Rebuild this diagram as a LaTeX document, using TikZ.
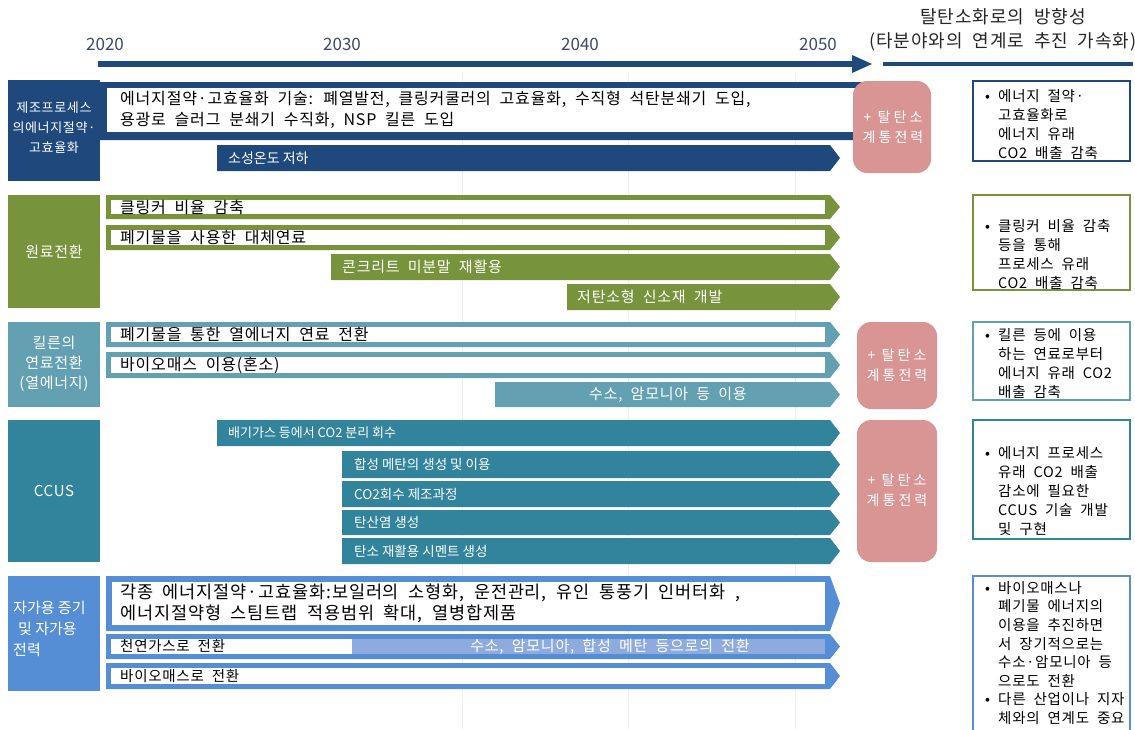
\documentclass[tikz,border=0pt]{standalone}
\usepackage{fontspec}
\setmainfont{Noto Sans CJK KR}[LetterSpace=5,WordSpace=2]
\newfontfamily\plainf{Noto Sans CJK KR}
\newfontfamily\pinkf{Noto Sans CJK KR}[LetterSpace=22]
\definecolor{navy}{HTML}{1F497D}
\definecolor{olive}{HTML}{77933C}
\definecolor{tealc}{HTML}{62A0B2}
\definecolor{ccus}{HTML}{31849B}
\definecolor{bluec}{HTML}{558ED5}
\definecolor{bluel}{HTML}{8FAADC}
\definecolor{pinkb}{HTML}{D99594}
\definecolor{yeartxt}{HTML}{3C4A6E}
\definecolor{gridc}{HTML}{EFEFEF}
\newcommand\fs[2]{\fontsize{#1pt}{#2pt}\selectfont}
% filled chevron: colour, x1, y1, tip x, y2
\newcommand\chevF[5]{\fill[#1] (#2,#3) -- ({#4-10},#3) -- (#4,{(#3+#5)/2}) -- ({#4-10},#5) -- (#2,#5) -- cycle;}
% outlined chevron: colour, x1, y1, tip x, y2, border
\newcommand\chevO[6]{\chevF{#1}{#2}{#3}{#4}{#5}\fill[white] ({#2+#6},{#3+#6}) rectangle ({#4-15},{#5-#6});}
\tikzset{
  lab/.style={text=white, align=center, inner sep=0pt},
  txt/.style={anchor=west, inner sep=0pt, text=black, align=left},
  wtxt/.style={anchor=west, inner sep=0pt, text=white},
  ctxt/.style={anchor=west, inner sep=0pt, text=white, font=\plainf\fs{13.5}{16}},
  rtxt/.style={anchor=north west, inner sep=0pt, text=black, align=left, font=\fs{14.5}{19}},
  ptxt/.style={text=white, align=center, inner sep=0pt, font=\pinkf\fs{14}{20}},
  yr/.style={text=yeartxt, inner sep=0pt, font=\plainf\fs{17}{20}},
}
\newcommand\bi{\makebox[13pt][l]{•}}
\newcommand\bs{\hspace*{13pt}}
\begin{document}
\begin{tikzpicture}[x=1pt,y=-1pt]
\useasboundingbox (0,0) rectangle (1135,729);
\fill[white] (0,0) rectangle (1135,729);
% grid
\foreach \gx in {462,628,795} \draw[gridc, line width=1pt] (\gx,72) -- (\gx,729);
% header
\node[yr] (y20) at (105,44) {2020};
\node[yr] (y30) at (342,44) {2030};
\node[yr] (y40) at (580,44) {2040};
\node[yr] (y50) at (818,44) {2050};
\fill[navy] (98,61) rectangle (853,67);
\fill[navy] (852,55) -- (872,64) -- (852,73) -- cycle;
\fill[navy] (883,62) rectangle (1133,66);
\node[inner sep=0pt, align=center, font=\fs{18}{24}, text=black!85] (head) at (1003,30) {탈탄소화로의 방향성\\(타분야와의 연계로 추진 가속화)};
%% Row 1
\fill[navy] (8,80) rectangle (100,181);
\node[lab, font=\fs{13}{20}] (l1) at (54,128) {제조프로세스\\의에너지절약·\\고효율화};
\chevF{navy}{100}{82}{880}{140}
\fill[white] (107,88) rectangle (870,132);
\node[txt, font=\fs{16}{21}] (t11) at (120,110) {에너지절약·고효율화 기술: 폐열발전, 클링커쿨러의 고효율화, 수직형 석탄분쇄기 도입,\\용광로 슬러그 분쇄기 수직화, NSP 킬른 도입};
\chevF{navy}{217}{145}{840}{171}
\node[wtxt, font=\plainf\fs{14}{17}] (t12) at (228,158) {소성온도 저하};
\fill[pinkb, rounded corners=14pt] (853,81) rectangle (931,173);
\node[ptxt] (p1) at (893,127) {+ 탈탄소\\계통전력};
\draw[navy, line width=2pt, fill=white] (973,81) rectangle (1130,161);
\node[rtxt] (r1) at (985,89) {\bi 에너지 절약·\\\bs 고효율화로\\\bs 에너지 유래\\\bs CO2 배출 감축};
%% Row 2
\fill[olive] (8,195) rectangle (100,308);
\node[lab, font=\fs{15}{20}] (l2) at (54,252) {원료전환};
\chevO{olive}{106}{195}{840}{219}{5}
\node[txt, font=\fs{16}{20}] (t21) at (120,207) {클링커 비율 감축};
\chevO{olive}{106}{225}{840}{250}{5}
\node[txt, font=\fs{16}{20}] (t22) at (120,237.5) {폐기물을 사용한 대체연료};
\chevF{olive}{331}{254}{840}{280}
\node[wtxt, font=\fs{15}{20}] (t23) at (342,267) {콘크리트 미분말 재활용};
\chevF{olive}{567}{284}{840}{310}
\node[wtxt, font=\fs{15}{20}] (t24) at (577,297) {저탄소형 신소재 개발};
\draw[olive, line width=2pt, fill=white] (973,195) rectangle (1130,290);
\node[rtxt] (r2) at (985,219) {\bi 클링커 비율 감축\\\bs 등을 통해\\\bs 프로세스 유래\\\bs CO2 배출 감축};
%% Row 3
\fill[tealc] (8,322) rectangle (100,407);
\node[lab, font=\fs{15}{20}] (l3) at (54,364) {킬른의\\연료전환\\(열에너지)};
\chevO{tealc}{106}{322}{840}{347}{5}
\node[txt, font=\fs{16}{20}] (t31) at (120,334.5) {폐기물을 통한 열에너지 연료 전환};
\chevO{tealc}{106}{352}{840}{378}{5}
\node[txt, font=\fs{16}{20}] (t32) at (120,365) {바이오매스 이용(혼소)};
\chevF{tealc}{495}{382}{840}{407}
\node[text=white, inner sep=0pt, font=\fs{15}{20}] (t33) at (668,394.5) {수소, 암모니아 등 이용};
\fill[pinkb, rounded corners=14pt] (857,322) rectangle (937,409);
\node[ptxt] (p2) at (897,365) {+ 탈탄소\\계통전력};
\draw[tealc, line width=2pt, fill=white] (973,322) rectangle (1130,400);
\node[rtxt] (r3) at (985,328) {\bi 킬른 등에 이용\\\bs 하는 연료로부터\\\bs 에너지 유래 CO2\\\bs 배출 감축};
%% Row 4
\fill[ccus] (8,420) rectangle (100,562);
\node[lab, font=\fs{15}{20}] (l4) at (54,491) {CCUS};
\chevF{ccus}{217}{420}{840}{446}
\node[ctxt, font=\plainf\fs{13}{16}] (t41) at (228,433) {배기가스 등에서 CO2 분리 회수};
\chevF{ccus}{342}{451}{840}{478}
\node[ctxt] (t42) at (354,464.5) {합성 메탄의 생성 및 이용};
\chevF{ccus}{342}{481}{840}{507}
\node[ctxt] (t43) at (354,494) {CO2회수 제조과정};
\chevF{ccus}{342}{510}{840}{535}
\node[ctxt] (t44) at (354,522.5) {탄산염 생성};
\chevF{ccus}{342}{538}{840}{564}
\node[ctxt] (t45) at (354,551) {탄소 재활용 시멘트 생성};
\fill[pinkb, rounded corners=14pt] (857,420) rectangle (937,562);
\node[ptxt] (p3) at (897,490) {+ 탈탄소\\계통전력};
\draw[ccus, line width=2pt, fill=white] (973,420) rectangle (1130,539);
\node[rtxt] (r4) at (985,446) {\bi 에너지 프로세스\\\bs 유래 CO2 배출\\\bs 감소에 필요한\\\bs CCUS 기술 개발\\\bs 및 구현};
%% Row 5
\fill[bluec] (8,576) rectangle (100,691);
\node[txt, text=white, font=\plainf\fs{15}{21}] (l5) at (13,629) {자가용 증기\\\hspace*{5pt}및 자가용\\전력};
\chevO{bluec}{106}{576}{840}{631}{6}
\node[txt, font=\fs{17.5}{21}] (t51) at (120,603) {각종 에너지절약·고효율화:보일러의 소형화, 운전관리, 유인 통풍기 인버터화 ,\\에너지절약형 스팀트랩 적용범위 확대, 열병합제품};
\chevO{bluec}{106}{634}{840}{659}{5}
\fill[bluel] (352,639) rectangle (825,654);
\node[txt, font=\fs{14.5}{18}] (t52) at (120,646.5) {천연가스로 전환};
\node[text=white, inner sep=0pt, font=\fs{15}{18}] (t53) at (610,646.5) {수소, 암모니아, 합성 메탄 등으로의 전환};
\chevO{bluec}{106}{663}{840}{689}{5}
\node[txt, font=\fs{14.5}{18}] (t54) at (120,676) {바이오매스로 전환};
\draw[bluec, line width=2pt, fill=white] (973,576) rectangle (1130,745);
\node[rtxt, font=\fs{14.5}{18.6}] (r5) at (985,581) {\bi 바이오매스나\\\bs 폐기물 에너지의\\\bs 이용을 추진하면\\\bs 서 장기적으로는\\\bs 수소·암모니아 등\\\bs 으로도 전환\\\bi 다른 산업이나 지자\\\bs 체와의 연계도 중요};
\end{tikzpicture}
\end{document}
